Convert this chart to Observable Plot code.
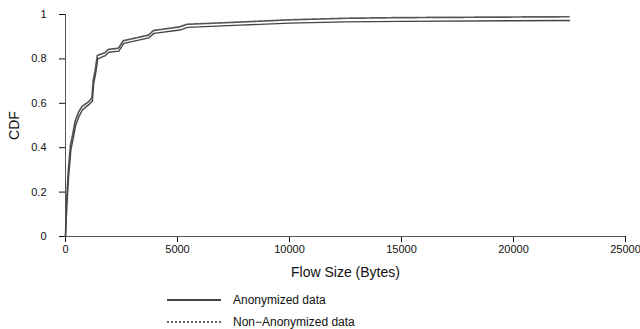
<!DOCTYPE html>
<html>
<head>
<meta charset="utf-8">
<script src="https://cdn.jsdelivr.net/npm/d3@7"></script>
<script src="https://cdn.jsdelivr.net/npm/@observablehq/plot@0.6"></script>
<style>
  body { margin: 0; background: #fff; font-family: "Liberation Sans", Arial, sans-serif; }
  #wrap { position: relative; width: 640px; height: 329px; }
  #legend { position: absolute; left: 167px; top: 289px; font-size: 12px; color: #111; }
  .row { display: flex; align-items: center; height: 22px; }
  .sw { width: 54px; height: 0; margin-right: 12px; }
</style>
</head>
<body>
<div id="wrap">
  <div id="chart"></div>
  <div id="legend"></div>
</div>
<script>
const seriesNames = ["Anonymized data", "Non\u2212Anonymized data"];
const anonSize = [0, 60, 140, 240, 360, 450, 600, 750, 1050, 1200, 1260, 1340, 1440, 1780, 1930, 2380, 2600, 3720, 3950, 5100, 5450, 7800, 10000, 12500, 15000, 22500];
const anonCdf  = [0, 0.14, 0.27, 0.39, 0.45, 0.50, 0.54, 0.57, 0.595, 0.61, 0.69, 0.73, 0.80, 0.815, 0.83, 0.835, 0.87, 0.895, 0.915, 0.93, 0.942, 0.952, 0.961, 0.967, 0.969, 0.973];
const nonSize  = [0, 50, 120, 220, 340, 430, 580, 730, 1030, 1180, 1240, 1320, 1420, 1760, 1910, 2360, 2580, 3700, 3930, 5080, 5430, 7800, 10000, 12500, 15000, 22500];
const nonCdf   = [0, 0.16, 0.29, 0.41, 0.47, 0.52, 0.56, 0.585, 0.607, 0.625, 0.705, 0.745, 0.815, 0.828, 0.843, 0.848, 0.882, 0.907, 0.928, 0.944, 0.956, 0.966, 0.976, 0.983, 0.986, 0.99];
const xTicks = [0, 5000, 10000, 15000, 20000, 25000];
const yTicks = [0, 0.2, 0.4, 0.6, 0.8, 1];

const anon = anonSize.map((s, i) => ({size: s, cdf: anonCdf[i]}));
const non = nonSize.map((s, i) => ({size: s, cdf: nonCdf[i]}));

const plot = Plot.plot({
  width: 640,
  height: 285,
  marginLeft: 65,
  marginRight: 15,
  marginTop: 14,
  marginBottom: 49,
  style: {fontFamily: "Liberation Sans, Arial, sans-serif", fontSize: "11px", color: "#111", background: "#fff"},
  x: {domain: [0, 25000], ticks: xTicks, tickFormat: d => String(d), tickSize: 6, tickPadding: 3, label: "Flow Size (Bytes)", labelAnchor: "center", labelOffset: 40, labelArrow: "none"},
  y: {domain: [0, 1], ticks: yTicks, tickFormat: d => String(d), tickSize: 6, tickPadding: 13, label: "CDF", labelAnchor: "center", labelOffset: 56, labelArrow: "none"},
  marks: [
    Plot.ruleX([0], {y1: 0, y2: 1, stroke: "#555"}),
    Plot.ruleY([0], {x1: 0, x2: 25000, stroke: "#555"}),
    Plot.line(non, {x: "size", y: "cdf", stroke: "#555", strokeWidth: 1.7, strokeDasharray: "1,1"}),
    Plot.line(anon, {x: "size", y: "cdf", stroke: "#444", strokeWidth: 1.4})
  ]
});
document.getElementById("chart").appendChild(plot);

// style axis labels and strip any arrows
d3.select(plot).selectAll("g[aria-label='x-axis label'] text, g[aria-label='y-axis label'] text")
  .style("font-size", "14px")
  .each(function() {
    this.textContent = this.textContent.replace(/[\u2190-\u2193]/g, "").trim();
  });

const legend = document.getElementById("legend");
seriesNames.forEach((name, i) => {
  const row = document.createElement("div");
  row.className = "row";
  const sw = document.createElement("div");
  sw.className = "sw";
  sw.style.borderTop = i === 0 ? "2px solid #444" : "2px dotted #666";
  row.appendChild(sw);
  const t = document.createElement("span");
  t.textContent = name;
  row.appendChild(t);
  legend.appendChild(row);
});
</script>
</body>
</html>
